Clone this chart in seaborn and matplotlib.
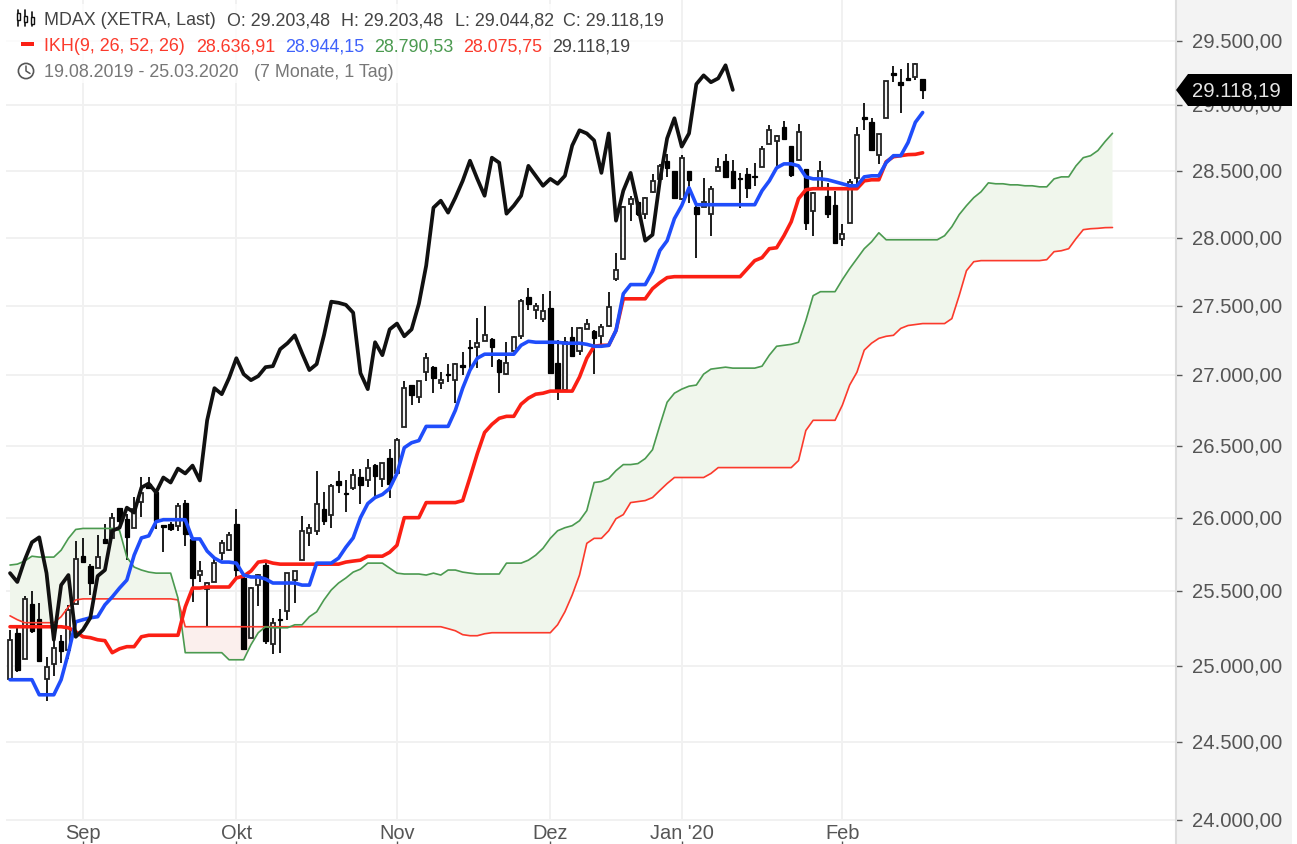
import numpy as np
import pandas as pd
import matplotlib
matplotlib.use('Agg')
import matplotlib.pyplot as plt
from matplotlib.patches import Rectangle, Polygon, Circle
from matplotlib.lines import Line2D
from matplotlib.ticker import FixedLocator, NullLocator
from matplotlib.transforms import ScaledTranslation
import seaborn as sns

# MDAX daily candles
opens = [24914,25220,25047,25413,25313,24914,25013,25167,25107,25413,
         25736,25669,25655,25854,25861,26070,25993,25931,26111,26236,
         26174,25951,25958,25945,26104,25851,25608,25514,25561,25756,
         25780,25958,25588,25187,25540,25675,25147,25313,25367,25575,
         25709,25896,25910,26062,26021,26257,26167,26202,26278,26264,
         26368,26271,26417,26306,26629,26929,26843,27021,27057,26943,
         27007,26964,27071,27200,27200,27243,27257,27107,27007,27171,
         27279,27566,27471,27407,27486,27086,26893,27271,27171,27329,
         27314,27279,27350,27699,27846,28254,28269,28179,28343,28440,
         28577,28500,28291,28500,28231,28231,28179,28500,28577,28500,
         28448,28478,28463,28530,28700,28723,28831,28692,28584,28515,
         28202,28373,28313,28246,27993,28112,28448,28908,28869,28623,
         28900,29246,29177,29207,29215,29203]
highs = [25240,25260,25467,25500,25420,25060,25220,25207,25407,25838,
         25858,25682,25878,25958,26035,26070,26028,26146,26278,26278,
         26180,25951,25972,26104,26125,25854,25703,25561,25716,25844,
         25903,26062,25595,25527,25615,25689,25320,25380,25622,25635,
         26014,25958,26326,26174,26236,26326,26264,26340,26340,26410,
         26375,26382,26479,26557,26957,26929,26957,27157,27064,27021,
         27079,27086,27164,27250,27414,27500,27264,27114,27236,27279,
         27552,27632,27522,27588,27610,27250,27271,27343,27343,27407,
         27321,27371,27603,27890,28239,28313,28276,28306,28478,28553,
         28630,28500,28622,28500,28239,28448,28388,28600,28630,28584,
         28485,28523,28561,28692,28846,28769,28877,28692,28854,28515,
         28343,28577,28410,28351,28104,28440,28831,29015,28900,28777,
         29184,29300,29277,29323,29323,29203]
lows = [24914,24960,25047,25220,25033,24770,24934,25020,25047,25413,
        25696,25473,25655,25820,25861,25958,25709,25931,26007,26201,
        25924,25763,25910,25910,25807,25427,25561,25260,25561,25709,
        25774,25595,25113,25187,25400,25147,25080,25087,25307,25420,
        25709,25807,25882,25951,25931,26167,26042,26188,26097,26215,
        26146,26215,26139,26306,26629,26786,26800,26957,26871,26900,
        26950,26800,27000,27036,27050,27243,27057,26871,27000,27171,
        27257,27471,27407,27379,27007,26821,26893,27136,27143,27329,
        27007,27214,27343,27684,27846,28127,28164,28142,28336,28425,
        28455,28298,28284,28261,27851,28231,28015,28500,28455,28373,
        28224,28298,28388,28530,28700,28538,28738,28455,28584,28060,
        28015,28373,28149,27963,27941,28112,28403,28808,28661,28553,
        28900,29177,28938,29184,29192,29044]
closes = [25173,24974,25447,25233,25033,24993,25120,25100,25373,25716,
          25696,25554,25730,25826,26000,25979,25868,26062,26167,26208,
          25979,25938,25924,26083,25889,25588,25635,25554,25689,25824,
          25882,25642,25113,25520,25608,25167,25287,25307,25622,25635,
          25910,25931,26097,25979,26222,26229,26160,26292,26229,26347,
          26285,26382,26236,26543,26907,26857,26957,27121,26979,26964,
          27000,27079,27057,27193,27229,27286,27200,27021,27086,27271,
          27537,27515,27500,27464,27014,26893,27236,27136,27336,27371,
          27264,27343,27493,27765,28231,28291,28179,28299,28425,28538,
          28523,28298,28600,28433,28179,28269,28366,28530,28455,28373,
          28440,28373,28455,28669,28808,28761,28738,28470,28792,28112,
          28336,28500,28179,27963,28030,28418,28769,28892,28661,28777,
          29184,29230,29153,29192,29315,29118]

# Ichimoku lines
tenkan = [24908,24908,24908,24908,24809,24809,24809,24908,25087,25293,
          25307,25320,25327,25407,25460,25520,25574,25743,25861,25875,
          25972,25986,25986,25986,25986,25854,25854,25771,25723,25696,
          25696,25689,25608,25595,25595,25581,25554,25554,25554,25554,
          25540,25540,25689,25689,25689,25723,25797,25861,26000,26097,
          26139,26160,26202,26306,26486,26521,26536,26636,26636,26636,
          26636,26750,26907,27036,27121,27150,27150,27150,27150,27150,
          27214,27243,27236,27236,27236,27236,27229,27229,27229,27221,
          27207,27207,27214,27321,27588,27655,27655,27655,27750,27905,
          27978,28142,28239,28373,28246,28246,28246,28246,28246,28246,
          28246,28246,28246,28351,28425,28523,28553,28553,28538,28455,
          28440,28440,28433,28418,28403,28388,28388,28455,28463,28463,
          28562,28615,28615,28715,28869,28944]
kijun = [25260,25260,25260,25260,25260,25260,25260,25260,25253,25227,
         25193,25187,25173,25167,25087,25113,25127,25127,25193,25203,
         25203,25203,25203,25203,25393,25520,25520,25527,25527,25527,
         25527,25588,25601,25635,25696,25703,25689,25682,25682,25682,
         25682,25682,25682,25682,25682,25682,25696,25703,25709,25736,
         25736,25736,25763,25811,26000,26000,26000,26104,26104,26104,
         26104,26104,26118,26278,26444,26593,26650,26693,26707,26707,
         26793,26836,26864,26871,26886,26886,26886,26886,26986,27121,
         27207,27214,27214,27321,27551,27551,27551,27551,27625,27669,
         27706,27713,27713,27713,27713,27713,27713,27713,27713,27713,
         27713,27772,27831,27853,27919,27926,28015,28119,28291,28358,
         28366,28366,28366,28366,28366,28366,28366,28425,28433,28433,
         28569,28607,28615,28623,28625,28637]
chikou = [25621,25561,25709,25831,25865,25621,25173,25540,25608,25193,
          25240,25320,25601,25642,25910,25931,26069,26035,26208,26236,
          26174,26278,26243,26340,26306,26361,26257,26679,26907,26864,
          26979,27121,27007,26964,26993,27057,27064,27186,27229,27286,
          27157,27036,27079,27286,27530,27522,27507,27450,27014,26900,
          27236,27143,27329,27371,27279,27329,27515,27794,28224,28276,
          28187,28299,28425,28577,28440,28313,28600,28562,28179,28239,
          28313,28538,28463,28388,28440,28403,28463,28692,28808,28784,
          28731,28485,28784,28127,28351,28485,28239,27978,28022,28425,
          28746,28900,28684,28784,29162,29230,29177,29207,29308,29118]
senkou_a = [25676,25682,25703,25736,25730,25730,25730,25777,25858,25919,
            25926,25926,25926,25926,25926,25912,25730,25662,25642,25628,
            25621,25621,25621,25453,25087,25087,25087,25087,25087,25087,
            25040,25040,25040,25140,25220,25260,25253,25253,25253,25273,
            25273,25327,25360,25440,25507,25554,25588,25628,25648,25689,
            25689,25689,25655,25621,25615,25615,25615,25608,25621,25608,
            25642,25642,25628,25621,25615,25615,25615,25615,25689,25689,
            25689,25709,25743,25790,25858,25910,25931,25945,25979,26049,
            26243,26250,26271,26326,26368,26368,26375,26410,26472,26643,
            26807,26871,26900,26921,26929,27007,27043,27050,27057,27050,
            27050,27050,27050,27064,27143,27207,27214,27221,27236,27393,
            27574,27603,27603,27603,27691,27772,27846,27919,27970,28037,
            27985,27985,27985,27985,27985,27985,27985,27985,28015,28082,
            28172,28239,28299,28343,28410,28403,28403,28395,28395,28388,
            28388,28380,28380,28440,28455,28455,28538,28600,28615,28654,
            28723,28785]
senkou_b = [25333,25307,25287,25287,25287,25287,25287,25327,25393,25440,
            25447,25447,25447,25447,25447,25447,25447,25447,25447,25447,
            25447,25447,25447,25440,25260,25260,25260,25260,25260,25260,
            25260,25260,25260,25260,25260,25260,25260,25260,25260,25260,
            25260,25260,25260,25260,25260,25260,25260,25260,25260,25260,
            25260,25260,25260,25260,25260,25260,25260,25260,25260,25260,
            25247,25233,25207,25200,25200,25213,25220,25220,25220,25220,
            25220,25220,25220,25220,25220,25273,25360,25473,25608,25824,
            25858,25858,25910,25993,26021,26104,26111,26118,26139,26188,
            26236,26278,26278,26278,26278,26278,26306,26347,26347,26347,
            26347,26347,26347,26347,26347,26347,26347,26347,26396,26607,
            26679,26679,26679,26679,26786,26929,27021,27179,27229,27264,
            27279,27286,27336,27357,27364,27371,27371,27371,27371,27407,
            27574,27757,27823,27831,27831,27831,27831,27831,27831,27831,
            27831,27831,27838,27897,27904,27919,27993,28060,28067,28070,
            28075,28076]

price_ticks = [24000,24500,25000,25500,26000,26500,27000,27500,28000,28500,29000,29500]
month_pos = [10,31,53,74,92,114]
month_labels = ['Sep','Okt','Nov','Dez',"Jan '20",'Feb']

W, H = 1297, 845
sns.set_style('white')
plt.rcParams['font.family'] = ['Liberation Sans', 'DejaVu Sans']

fig = plt.figure(figsize=(W/100, H/100), dpi=100)
ax = fig.add_axes([6/W, 0, 1170/W, 1])

def fx(px):
    return px / W

def fy(py):
    return 1 - py / H

# right price panel
fig.patches.append(Rectangle((fx(1176), 0), 116/W, 1, transform=fig.transFigure,
                             facecolor='#f3f3f3', edgecolor='none', zorder=-5))

ax.set_yscale('log')
ax.set_xlim(-0.55, 159.7)
ax.set_ylim(23848, 29827)
ax.set_facecolor('white')

# grid
ax.hlines(price_ticks, -0.55, 159.7, color='#f1f1f1', lw=1.4, zorder=1)
ax.vlines(month_pos, 24000, 29827, color='#f1f1f1', lw=1.4, zorder=1)

# cloud
cloud_x = np.arange(len(senkou_a))
a = np.array(senkou_a)
b = np.array(senkou_b)
ax.fill_between(cloud_x, a, b, where=a >= b, interpolate=True, color='#f0f6ec', lw=0, zorder=2)
ax.fill_between(cloud_x, a, b, where=a < b, interpolate=True, color='#fbefed', lw=0, zorder=2)

# candles
df = pd.DataFrame({'open': opens, 'high': highs, 'low': lows, 'close': closes})
df['x'] = df.index
up = df[df['close'] >= df['open']]
down = df[df['close'] < df['open']]
ax.vlines(df['x'], df['low'], df['high'], color='#1a1a1a', lw=1.4, zorder=3)
ax.bar(up['x'], up['close'] - up['open'], bottom=up['open'], width=0.55,
       facecolor='#f4f4f4', edgecolor='#222222', lw=1.3, zorder=4)
ax.bar(down['x'], down['open'] - down['close'], bottom=down['close'], width=0.62,
       facecolor='black', edgecolor='black', lw=0.9, zorder=4)

# ichimoku lines
sns.lineplot(x=cloud_x, y=senkou_b, ax=ax, color='#fb3a2c', lw=1.2, zorder=5)
sns.lineplot(x=cloud_x, y=senkou_a, ax=ax, color='#4b9a50', lw=1.2, zorder=5)
sns.lineplot(x=np.arange(len(kijun)), y=kijun, ax=ax, color='#fb1f14', lw=2.6, zorder=6)
sns.lineplot(x=np.arange(len(tenkan)), y=tenkan, ax=ax, color='#1f4dfb', lw=2.6, zorder=6)
sns.lineplot(x=np.arange(len(chikou)), y=chikou, ax=ax, color='#111111', lw=2.7, zorder=7)

# axes
for s in ['top', 'left', 'bottom']:
    ax.spines[s].set_visible(False)
ax.spines['right'].set_color('#dddddd')
ax.spines['right'].set_linewidth(1.5)
ax.yaxis.tick_right()
ax.yaxis.set_major_locator(FixedLocator(price_ticks))
ax.yaxis.set_minor_locator(NullLocator())
ax.set_yticklabels(['%s,00' % format(p, ',').replace(',', '.') for p in price_ticks])
ax.tick_params(axis='y', right=True, direction='out', length=4.5, width=1, color='#555555',
               pad=6.7, labelsize=14.6, labelcolor='#555555')
# labels sit a little above their grid lines
lift = ScaledTranslation(0, 1.5/72, fig.dpi_scale_trans)
for lab in ax.get_yticklabels():
    lab.set_transform(lab.get_transform() + lift)
ax.set_xticks(month_pos)
ax.set_xticklabels(month_labels)
ax.tick_params(axis='x', bottom=True, direction='in', length=2.5, width=1, color='#555555',
               pad=-15, labelsize=14.4, labelcolor='#555555')
ax.set_xlabel('')
ax.set_ylabel('')

# legend backing
fig.patches.append(Rectangle((fx(6), fy(58)), 664/W, 53/H, transform=fig.transFigure,
                             facecolor='white', alpha=0.75, edgecolor='none', zorder=8))
fig.patches.append(Rectangle((fx(6), fy(84)), 394/W, 26/H, transform=fig.transFigure,
                             facecolor='white', alpha=0.75, edgecolor='none', zorder=8))

def legend_text(px, py, s, color):
    fig.text(fx(px), fy(py), s, color=color, fontsize=12.9, va='center', ha='left', zorder=10)

legend_text(44, 20.5, 'MDAX (XETRA, Last)', '#444444')
legend_text(227, 20.5, 'O: 29.203,48', '#444444')
legend_text(341, 20.5, 'H: 29.203,48', '#444444')
legend_text(455, 20.5, 'L: 29.044,82', '#444444')
legend_text(563, 20.5, 'C: 29.118,19', '#444444')
legend_text(44, 46.5, 'IKH(9, 26, 52, 26)', '#fb3a2c')
legend_text(196, 46.5, '28.636,91', '#fb3a2c')
legend_text(285, 46.5, '28.944,15', '#3f62fb')
legend_text(374, 46.5, '28.790,53', '#4b9a50')
legend_text(463, 46.5, '28.075,75', '#fb3a2c')
legend_text(552, 46.5, '29.118,19', '#444444')
legend_text(44, 72.5, '19.08.2019 - 25.03.2020', '#777777')
legend_text(254, 72.5, '(7 Monate, 1 Tag)', '#777777')

# legend icons
for px, y0, y1, top, bot in [(18, 11, 27, 14, 21), (25, 11, 27, 17, 23), (32, 13, 27, 18, 25)]:
    fig.add_artist(Line2D([fx(px), fx(px)], [fy(y0), fy(y1)], color='#111111', lw=1.2, zorder=10))
    fig.patches.append(Rectangle((fx(px - 1.5), fy(bot)), 3/W, (bot - top)/H, transform=fig.transFigure,
                                 facecolor='white', edgecolor='#111111', lw=1, zorder=11))
fig.patches.append(Rectangle((fx(21), fy(47)), 13/W, 4/H, transform=fig.transFigure,
                             facecolor='#fb1f14', edgecolor='none', zorder=10))
ax_clock = fig.add_axes([fx(17), fy(81), 18/W, 18/H], zorder=20)
ax_clock.set_xlim(-9, 9)
ax_clock.set_ylim(-9, 9)
ax_clock.axis('off')
ax_clock.add_patch(Circle((0, 0), 7.6, facecolor='none', edgecolor='#555555', lw=1.2))
ax_clock.plot([0, 0, 4], [5, 0, -2.5], color='#555555', lw=1.1)

# last price tag
fig.patches.append(Polygon([(fx(1176), fy(91)), (fx(1188), fy(75)), (fx(1292), fy(75)),
                            (fx(1292), fy(107)), (fx(1188), fy(107))],
                           transform=fig.transFigure, facecolor='black', edgecolor='none', zorder=12))
fig.text(fx(1192), fy(91), '29.118,19', color='#e6e6e6', fontsize=14.6, va='center', ha='left', zorder=13)

fig.savefig('out.png', dpi=100)
